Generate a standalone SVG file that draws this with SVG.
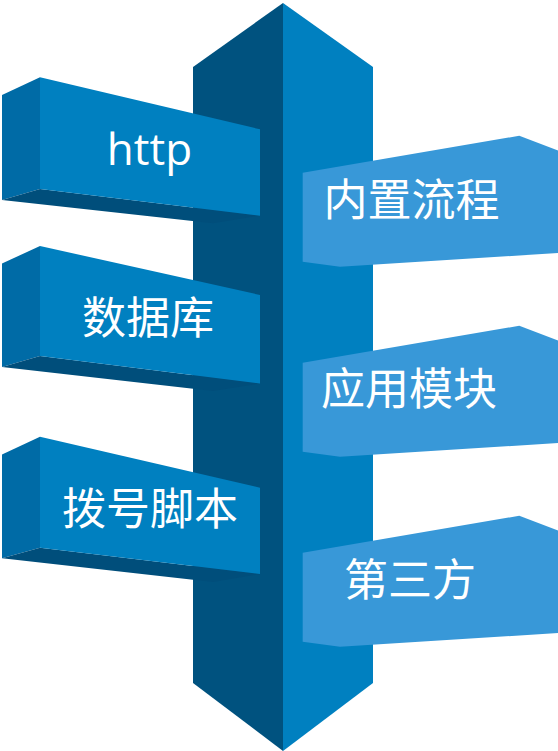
<svg xmlns="http://www.w3.org/2000/svg" width="558" height="751" viewBox="0 0 558 751">
<style>
.pl{fill:#00527f}
.pr{fill:#0080c0}
.front{fill:#0080c0}
.side{fill:#006ba6}
.bottom{fill:#004e7b}
.rbox{fill:#3898d8}
.lbl{fill:#ffffff;font-family:"Noto Sans CJK SC","Noto Sans",sans-serif;font-size:44px;text-anchor:middle}
.lat{fill:#ffffff;font-family:"Open Sans","Noto Sans",sans-serif;font-size:44px;text-anchor:middle}
</style>
<rect width="558" height="751" fill="#ffffff"/>
<g id="pillar">
<polygon class="pl" points="283,3 193,67 193,683 283,751"/>
<polygon class="pr" points="283,3 373,67 373,683 283,751"/>
</g>
<g id="connectors"></g>
<g id="node-http">
<polygon class="side" points="2,95 40,77.3 40,189 2,200"/>
<polygon class="bottom" points="2,200 40,189 260,215.7 213,223.3"/>
<polygon class="front" points="40,77.3 260,129.3 260,215.7 40,189"/>
<text class="lat" x="149.5" y="165">http</text>
</g>
<g id="node-db">
<polygon class="side" points="2,263.5 40,246 40,356 2,367"/>
<polygon class="bottom" points="2,367 40,356 260,383.5 213,391"/>
<polygon class="front" points="40,246 260,295 260,383.5 40,356"/>
<text class="lbl" x="148" y="334">数据库</text>
</g>
<g id="node-dial">
<polygon class="side" points="2,454.5 40,436.7 40,547.7 2,558.3"/>
<polygon class="bottom" points="2,558.3 40,547.7 260,574 213,582"/>
<polygon class="front" points="40,436.7 260,487.7 260,574 40,547.7"/>
<text class="lbl" x="150" y="525">拨号脚本</text>
</g>
<g id="node-flow">
<polygon class="rbox" points="302.7,172.7 519.3,135.7 558,150.5 558,253 340,266.7 302.7,261.7"/>
<text class="lbl" x="411.5" y="216">内置流程</text>
</g>
<g id="node-module">
<polygon class="rbox" points="302.7,362.7 519.3,325.7 558,340.5 558,443 340,456.7 302.7,451.7"/>
<text class="lbl" x="409" y="405">应用模块</text>
</g>
<g id="node-third">
<polygon class="rbox" points="302.7,552.7 519.3,515.7 558,530.5 558,633 340,646.7 302.7,641.7"/>
<text class="lbl" x="410" y="596">第三方</text>
</g>
</svg>
